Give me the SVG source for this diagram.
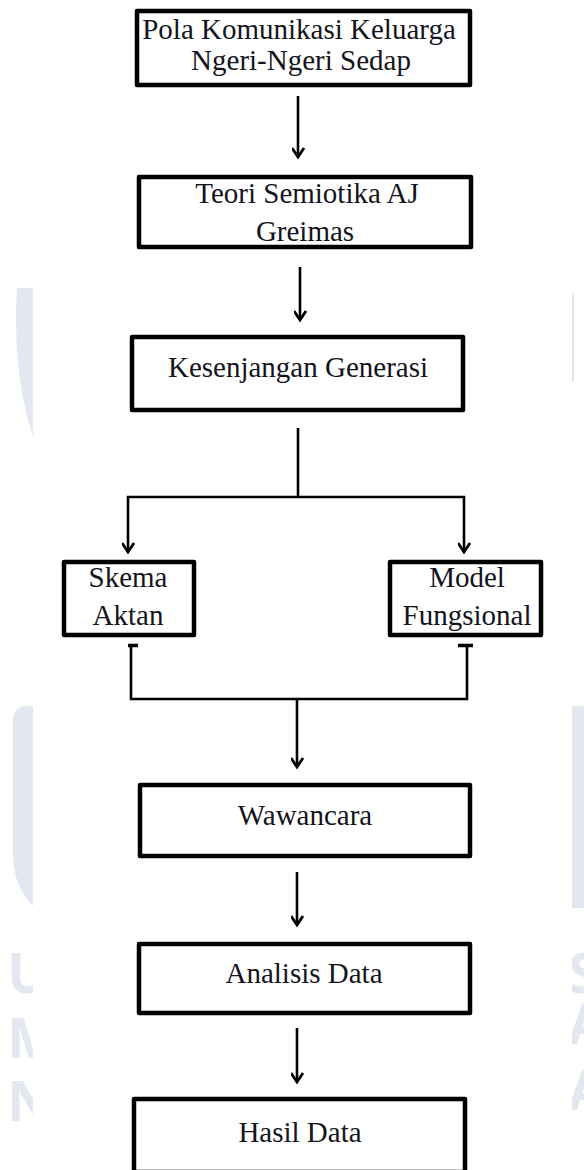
<svg xmlns="http://www.w3.org/2000/svg" width="584" height="1170" viewBox="0 0 584 1170">
<style>
.box{fill:#fff;stroke:#000;stroke-width:4.5;stroke-linejoin:round}
.lbl{font-family:"Liberation Serif","Times New Roman",serif;font-size:29px;fill:#141420;text-anchor:middle}
.ln{fill:none;stroke:#000;stroke-width:2.6}
.bar{fill:none;stroke:#000;stroke-width:3.5}
.wm{fill:#e3e7ef}
.wmt{font-family:"Open Sans","DejaVu Sans",sans-serif;font-weight:bold;font-size:56px;fill:#e3e7ef}
</style>
<defs>
<marker id="ah" markerUnits="userSpaceOnUse" markerWidth="20" markerHeight="20" viewBox="-10 -14 20 20" refX="0" refY="0" orient="auto-start-reverse">
<path d="M-9,-6 L0,0 L-9,6" fill="none" stroke="#000" stroke-width="2.8" stroke-linejoin="miter"/>
</marker>
<clipPath id="cl"><rect x="0" y="0" width="33" height="1170"/></clipPath>
<clipPath id="cr"><rect x="572" y="0" width="12" height="1170"/></clipPath>
</defs>
<rect width="584" height="1170" fill="#fff"/>
<g id="watermark">
<g clip-path="url(#cl)">
<path class="wm" d="M33,288 L17,288 C14,340 18,392 33,436 Z"/>
<path class="wm" d="M33,706 L27,706 Q13,706 13,720 L13,855 Q14,888 33,906 Z"/>
<text class="wmt" x="7" y="993">U</text>
<text class="wmt" x="7" y="1058">M</text>
<text class="wmt" x="7" y="1121">N</text>
</g>
<g clip-path="url(#cr)">
<path class="wm" d="M572,293 L574,293 L574,382 L572,382 Z"/>
<path class="wm" d="M572,706 L584,706 L584,908 L572,908 Z"/>
<text class="wmt" x="568" y="993">S</text>
<text class="wmt" x="568" y="1044">A</text>
<text class="wmt" x="568" y="1110">A</text>
</g>
</g>
<g id="connectors">
<line class="ln" x1="298" y1="96" x2="298" y2="157" marker-end="url(#ah)"/>
<line class="ln" x1="300" y1="267" x2="300" y2="320" marker-end="url(#ah)"/>
<line class="ln" x1="298" y1="428" x2="298" y2="497"/>
<polyline class="ln" points="128,552 128,497 464,497 464,552" marker-start="url(#ah)" marker-end="url(#ah)"/>
<polyline class="ln" points="131,645 131,699 467,699 467,645"/>
<line class="bar" x1="128" y1="645.5" x2="138" y2="645.5"/>
<line class="bar" x1="458" y1="645.5" x2="473" y2="645.5"/>
<line class="ln" x1="297" y1="699" x2="297" y2="767" marker-end="url(#ah)"/>
<line class="ln" x1="297" y1="872" x2="297" y2="925" marker-end="url(#ah)"/>
<line class="ln" x1="297" y1="1028" x2="297" y2="1082" marker-end="url(#ah)"/>
</g>
<g id="n1">
<rect class="box" x="137" y="11" width="333" height="74"/>
<text class="lbl" x="299" y="39">Pola Komunikasi Keluarga</text>
<text class="lbl" x="301" y="70">Ngeri-Ngeri Sedap</text>
</g>
<g id="n2">
<rect class="box" x="139" y="177" width="332" height="70"/>
<text class="lbl" x="307" y="203">Teori Semiotika AJ</text>
<text class="lbl" x="305" y="241">Greimas</text>
</g>
<g id="n3">
<rect class="box" x="132" y="337" width="331" height="73"/>
<text class="lbl" x="298" y="377">Kesenjangan Generasi</text>
</g>
<g id="n4">
<rect class="box" x="64" y="562" width="130" height="73"/>
<text class="lbl" x="128" y="587">Skema</text>
<text class="lbl" x="128" y="625">Aktan</text>
</g>
<g id="n5">
<rect class="box" x="390" y="562" width="151" height="73"/>
<text class="lbl" x="467" y="587">Model</text>
<text class="lbl" x="467" y="625">Fungsional</text>
</g>
<g id="n6">
<rect class="box" x="140" y="785" width="330" height="71"/>
<text class="lbl" x="305" y="825">Wawancara</text>
</g>
<g id="n7">
<rect class="box" x="139" y="944" width="331" height="69"/>
<text class="lbl" x="304" y="983">Analisis Data</text>
</g>
<g id="n8">
<rect class="box" x="134" y="1099" width="331" height="73"/>
<text class="lbl" x="300" y="1142">Hasil Data</text>
</g>
</svg>
